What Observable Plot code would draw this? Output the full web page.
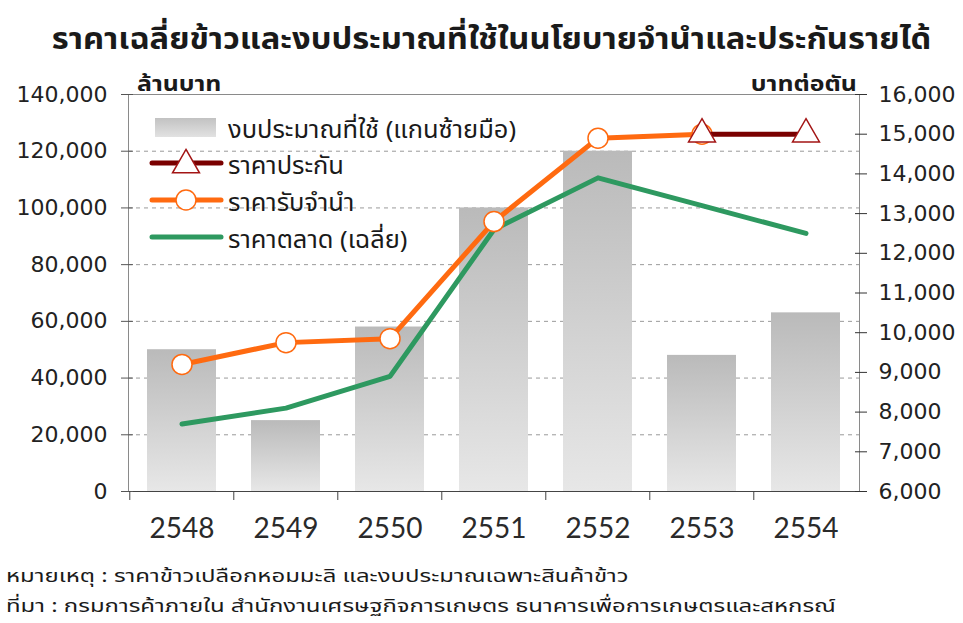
<!DOCTYPE html>
<html><head><meta charset="utf-8">
<script src="https://cdn.jsdelivr.net/npm/d3@7"></script>
<script src="https://cdn.jsdelivr.net/npm/@observablehq/plot@0.6"></script>
<style>
body{margin:0;background:#fff;width:963px;height:623px;overflow:hidden;position:relative;font-family:"Noto Sans Thai","Tahoma","Loma","Garuda","DejaVu Sans",sans-serif;color:#1a1a1a;}
.abs{position:absolute;white-space:nowrap;line-height:1;}
#title{left:10px;top:40px;width:963px;text-align:center;font-size:30px;font-weight:bold;transform:translateY(-50%) scaleX(1.09);transform-origin:center center;}
#chart{position:absolute;left:0;top:60px;}
.ytitle{font-size:22px;font-weight:bold;}
#lt{transform:translateY(-100%) scaleX(1.13);transform-origin:left bottom;}
#rt{transform:translateY(-100%) scaleX(1.13);transform-origin:right bottom;}
.leg{font-size:24px;transform:translateY(-50%) scaleX(1.06);transform-origin:left center;}
.cap{font-size:18px;left:6px;transform:translateY(-50%) scaleX(1.33);transform-origin:left center;}
</style></head><body>
<div id="chart"></div>
<div class="abs" id="title"></div>
<div class="abs ytitle" id="lt" style="left:137px;top:96px;"></div>
<div class="abs ytitle" id="rt" style="right:106px;top:96px;"></div>
<div id="legend"></div>
<div class="abs cap" id="cap1" style="top:577px;"></div>
<div class="abs cap" id="cap2" style="top:607px;"></div>
<script>
// ---- data ----
const chartTitle = "ราคาเฉลี่ยข้าวและงบประมาณที่ใช้ในนโยบายจำนำและประกันรายได้";
const leftTitle = "ล้านบาท";
const rightTitle = "บาทต่อตัน";
const years = ["2548","2549","2550","2551","2552","2553","2554"];
const budget = [50000,25000,58000,100000,120000,48000,63000];
const pledgePrice = [9200,9750,9850,12800,14900,15000,null];
const insurancePrice = [null,null,null,null,null,15000,15000];
const marketPrice = [7700,8100,8900,12600,13900,13200,12500];
const leftTicks = [0,20000,40000,60000,80000,100000,120000,140000];
const rightTicks = [6000,7000,8000,9000,10000,11000,12000,13000,14000,15000,16000];
const seriesNames = ["งบประมาณที่ใช้ (แกนซ้ายมือ)","ราคาประกัน","ราคารับจำนำ","ราคาตลาด (เฉลี่ย)"];
const notes = ["หมายเหตุ : ราคาข้าวเปลือกหอมมะลิ และงบประมาณเฉพาะสินค้าข้าว","ที่มา : กรมการค้าภายใน สำนักงานเศรษฐกิจการเกษตร ธนาคารเพื่อการเกษตรและสหกรณ์"];

const colors = {bar:"url(#barGrad)", ins:"#7a0000", insMarker:"#a31515", pledge:"#ff6a10", market:"#2e9960"};

// right axis (บาท/ตัน) mapped onto left scale domain
const R0 = rightTicks[0], K = (leftTicks[leftTicks.length-1]-leftTicks[0])/(rightTicks[rightTicks.length-1]-rightTicks[0]);
const toLeft = v => (v - R0) * K;

const rows = years.map((y,i)=>({year:y,budget:budget[i],pledge:pledgePrice[i],ins:insurancePrice[i],market:marketPrice[i]}));
const W=963,H=490,ML=128,MR=104,MT=34,MB=59;
const step=(W-ML-MR)/years.length;
const fmt = d3.format(",");

const plot = Plot.plot({
  width:W,height:H,marginLeft:ML,marginRight:MR,marginTop:MT,marginBottom:MB,
  style:{fontFamily:"'DejaVu Sans',sans-serif",fontSize:"22px",color:"#222",background:"transparent",overflow:"visible"},
  x:{type:"band",domain:years,paddingInner:0.34,paddingOuter:0.17,align:0.5,label:null},
  y:{domain:[leftTicks[0],leftTicks[leftTicks.length-1]],label:null},
  marks:[
    Plot.gridY(leftTicks.slice(1,-1),{stroke:"#9a9a9a",strokeOpacity:1,strokeDasharray:"4,4"}),
    Plot.barY(rows,{x:"year",y:"budget",fill:colors.bar}),
    Plot.frame({stroke:"#8a8a8a"}),
    Plot.ruleY([0],{stroke:"#444"}),
    Plot.axisY(leftTicks,{anchor:"left",tickSize:12,dx:5,tickPadding:14,tickFormat:fmt,stroke:"#555",label:null}),
    Plot.axisY(rightTicks.map(toLeft),{anchor:"right",tickSize:12,dx:-5,tickPadding:12,tickFormat:d=>fmt(Math.round(d/K+R0)),stroke:"#333",label:null}),
    Plot.axisX({tickSize:0,tickPadding:27,fontSize:28,fontFamily:"Lato",fill:"#2a2a2a",label:null}),
    Plot.axisX({tickSize:9,tickFormat:()=>"",dx:-step/2,stroke:"#444",label:null}),
    Plot.line(rows.filter(d=>d.market!=null),{x:"year",y:d=>toLeft(d.market),stroke:colors.market,strokeWidth:5}),
    Plot.line(rows.filter(d=>d.pledge!=null),{x:"year",y:d=>toLeft(d.pledge),stroke:colors.pledge,strokeWidth:5}),
    Plot.dot(rows.filter(d=>d.pledge!=null),{x:"year",y:d=>toLeft(d.pledge),r:10,fill:"white",stroke:colors.pledge,strokeWidth:1.5}),
    Plot.line(rows.filter(d=>d.ins!=null),{x:"year",y:d=>toLeft(d.ins),stroke:colors.ins,strokeWidth:5}),
    Plot.dot(rows.filter(d=>d.ins!=null),{x:"year",y:d=>toLeft(d.ins),symbol:"triangle",r:10,fill:"white",stroke:colors.insMarker,strokeWidth:1.5})
  ]
});
const defs = d3.select(plot).insert("defs",":first-child");
const g = defs.append("linearGradient").attr("id","barGrad").attr("x1",0).attr("y1",0).attr("x2",0).attr("y2",1);
g.append("stop").attr("offset","0%").attr("stop-color","#bababa");
g.append("stop").attr("offset","100%").attr("stop-color","#e7e7e7");
document.getElementById("chart").appendChild(plot);

document.getElementById("title").textContent = chartTitle;
document.getElementById("lt").textContent = leftTitle;
document.getElementById("rt").textContent = rightTitle;
document.getElementById("cap1").textContent = notes[0];
document.getElementById("cap2").textContent = notes[1];

// legend (overlay inside plot area)
const leg = d3.select("#legend");
const rowsY = [128,164,201,238];
const sw = leg.append("svg").attr("width",W).attr("height",260).style("position","absolute").style("left","0px").style("top","0px");
const lg = sw.append("defs").append("linearGradient").attr("id","legGrad").attr("x1",0).attr("y1",0).attr("x2",0).attr("y2",1);
lg.append("stop").attr("offset","0%").attr("stop-color","#c2c2c2");
lg.append("stop").attr("offset","100%").attr("stop-color","#e2e2e2");
sw.append("rect").attr("x",155).attr("y",rowsY[0]-10).attr("width",61).attr("height",19).attr("fill","url(#legGrad)");
const lineSw = (y,c)=>sw.append("line").attr("x1",152).attr("x2",221).attr("y1",y).attr("y2",y).attr("stroke",c).attr("stroke-width",5).attr("stroke-linecap","round");
lineSw(rowsY[1]-1,colors.ins);
sw.append("path").attr("d",d3.symbol(d3.symbolTriangle,Math.PI*100)()).attr("transform",`translate(186,${rowsY[1]+1})`).attr("fill","white").attr("stroke",colors.insMarker).attr("stroke-width",1.5);
lineSw(rowsY[2]-1,colors.pledge);
sw.append("circle").attr("cx",186).attr("cy",rowsY[2]-1).attr("r",10).attr("fill","white").attr("stroke",colors.pledge).attr("stroke-width",1.5);
lineSw(rowsY[3]-1,colors.market);
seriesNames.forEach((n,i)=>{
  leg.append("div").attr("class","abs leg").style("left","228px").style("top",(rowsY[i]+3)+"px").text(n);
});
</script>
</body></html>
